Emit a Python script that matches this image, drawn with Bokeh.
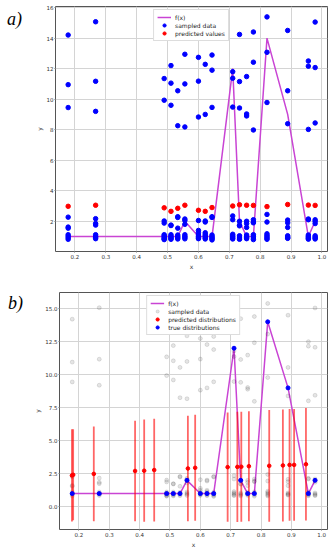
import math
from bokeh.plotting import figure
from bokeh.models import Range1d, Legend, LegendItem, FixedTicker, Div
from bokeh.layouts import column, row
from bokeh.embed import file_html
from bokeh.resources import INLINE

# ---------------- data ----------------
x_grid = [0.178, 0.267, 0.489, 0.511, 0.533, 0.556, 0.600, 0.622, 0.644,
          0.711, 0.733, 0.756, 0.778, 0.822, 0.889, 0.956, 0.978]
f_values = [1, 1, 1, 1, 1, 2, 1, 1, 1, 12, 2, 1, 1, 14, 9, 1, 2]

samples = [
    [14.2, 10.95, 9.45, 2.27, 1.62, 1.55, 1.12, 1.02, 0.92, 0.82],
    [15.07, 11.17, 9.2, 2.17, 1.85, 1.75, 1.12, 1.02, 0.95, 0.86],
    [11.35, 9.93, 2.02, 1.88, 1.12, 1.05, 0.97, 0.9, 0.84, 0.8],
    [12.2, 11.05, 9.6, 1.75, 1.72, 1.12, 1.03, 0.95, 0.88, 0.82],
    [14.08, 10.55, 8.26, 2.3, 2.25, 1.55, 1.1, 1.0, 0.92, 0.84],
    [12.94, 11.0, 8.18, 2.15, 2.05, 1.8, 1.12, 1.02, 0.94, 0.85],
    [12.74, 11.18, 8.83, 2.05, 1.4, 1.25, 1.1, 1.0, 0.92, 0.86],
    [12.28, 9.0, 2.02, 1.95, 1.25, 1.15, 1.05, 0.98, 0.9, 0.84],
    [12.89, 11.9, 9.46, 2.3, 2.25, 1.1, 1.0, 0.92, 0.85, 0.78],
    [11.8, 11.37, 9.48, 2.35, 2.1, 1.15, 1.05, 0.98, 0.9, 0.84],
    [14.24, 11.15, 9.42, 2.0, 1.75, 1.7, 1.05, 0.97, 0.9, 0.82],
    [11.48, 9.03, 8.9, 2.0, 1.85, 1.6, 1.1, 1.0, 0.93, 0.86],
    [14.4, 12.42, 7.98, 2.1, 1.95, 1.9, 1.12, 1.02, 0.9, 0.8],
    [15.39, 13.07, 9.78, 2.45, 1.95, 1.18, 1.08, 0.98, 0.9, 0.82],
    [14.5, 10.55, 8.39, 2.08, 1.9, 1.6, 1.05, 0.98, 0.92, 0.88],
    [12.5, 12.16, 8.02, 2.15, 2.1, 1.1, 1.02, 0.95, 0.88, 0.83],
    [15.05, 12.07, 8.44, 2.1, 2.0, 1.85, 1.05, 0.97, 0.9, 0.84],
]

predicted_values = [2.98, 3.05, 2.88, 2.65, 2.85, 3.05, 2.72, 2.65, 2.9,
                    3.0, 3.08, 3.05, 3.04, 2.96, 3.1, 3.06, 3.04]

pred_x = [0.177, 0.181, 0.249, 0.385, 0.415, 0.448, 0.559, 0.583, 0.690,
          0.722, 0.735, 0.760, 0.827, 0.872, 0.894, 0.909, 0.948]
pred_mean = [2.37, 2.42, 2.49, 2.71, 2.73, 2.78, 2.90, 2.95, 3.00,
             3.02, 3.03, 3.07, 3.10, 3.13, 3.17, 3.17, 3.22]
pred_std = [3.49, 3.44, 3.59, 3.81, 3.87, 3.89, 3.99, 4.01, 4.13,
            4.18, 4.17, 4.16, 4.23, 4.24, 4.23, 4.23, 4.26]

x_ticks = [0.2, 0.3, 0.4, 0.5, 0.6, 0.7, 0.8, 0.9, 1.0]
x_tick_labels = ["0.2", "0.3", "0.4", "0.5", "0.6", "0.7", "0.8", "0.9", "1.0"]
y_ticks_a = [2, 4, 6, 8, 10, 12, 14, 16]
y_tick_labels_a = ["2", "4", "6", "8", "10", "12", "14", "16"]
y_ticks_b = [0.0, 2.5, 5.0, 7.5, 10.0, 12.5, 15.0]
y_tick_labels_b = ["0.0", "2.5", "5.0", "7.5", "10.0", "12.5", "15.0"]

# ---------------- layout / style ----------------
LBL_W = 28
W = 334 - LBL_W
HA, HB = 272, 278
A_LEFT, A_RIGHT, A_TOP, A_BOTTOM = 27, 7, 6, 19
B_LEFT, B_RIGHT, B_TOP, B_BOTTOM = 31, 7, 20, 15
XA, YA = (0.137, 1.018), (0.02, 16.07)
XB, YB = (0.136, 1.019), (-1.72, 16.22)
MAG = "#c944d4"
FONT = "DejaVu Sans"

sx = [x for x, col in zip(x_grid, samples) for _ in col]
sy = [y for col in samples for y in col]


def make_fig(h, left, right, top, bottom, xr, yr, yt, ytl):
    p = figure(width=W, height=h, x_range=Range1d(*xr), y_range=Range1d(*yr),
               output_backend="svg", toolbar_location=None,
               min_border_left=left, min_border_right=right,
               min_border_top=top, min_border_bottom=bottom)
    p.outline_line_color = "#555555"
    p.outline_line_width = 1
    p.background_fill_color = "white"
    p.border_fill_color = "white"
    p.xaxis.ticker = FixedTicker(ticks=x_ticks)
    p.xaxis.major_label_overrides = dict(zip(x_ticks, x_tick_labels))
    p.yaxis.ticker = FixedTicker(ticks=yt)
    p.yaxis.major_label_overrides = dict(zip(yt, ytl))
    p.xaxis.axis_label = "x"
    p.yaxis.axis_label = "y"
    for ax in (p.xaxis[0], p.yaxis[0]):
        ax.axis_line_color = None
        ax.major_tick_line_color = "#777777"
        ax.major_tick_in = 0
        ax.major_tick_out = 1
        ax.minor_tick_line_color = None
        ax.major_label_text_font = FONT
        ax.major_label_text_font_size = "5.5px"
        ax.major_label_text_color = "#333333"
        ax.major_label_standoff = 1
        ax.axis_label_text_font = FONT
        ax.axis_label_text_font_size = "6px"
        ax.axis_label_text_font_style = "normal"
        ax.axis_label_text_color = "#333333"
        ax.axis_label_standoff = 1
    p.xgrid.ticker = FixedTicker(ticks=x_ticks)
    p.ygrid.ticker = FixedTicker(ticks=yt)
    for g in (p.xgrid[0], p.ygrid[0]):
        g.grid_line_color = "#d4d4d4"
        g.grid_line_width = 1
    return p


def legend_style(lg):
    lg.location = "top_center"
    lg.label_text_font = FONT
    lg.label_text_font_size = "6px"
    lg.label_text_color = "#222222"
    lg.glyph_height = 8
    lg.glyph_width = 14
    lg.label_height = 8
    lg.label_standoff = 4
    lg.spacing = 0
    lg.padding = 3
    lg.margin = 3
    lg.border_line_color = "#bbbbbb"
    lg.border_line_width = 1
    lg.background_fill_color = "white"
    lg.background_fill_alpha = 1.0


def side_label(text, h, pad_top, pad_left):
    html = ("<div style=\"padding:%dpx 0 0 %dpx; font-family:'Liberation Serif',serif; "
            "font-style:italic; font-size:18px; line-height:18px; color:#000;\">%s</div>"
            % (pad_top, pad_left, text))
    return Div(text=html, width=LBL_W, height=h, margin=0)


# ---------------- panel a ----------------
pa = make_fig(HA, A_LEFT, A_RIGHT, A_TOP, A_BOTTOM, XA, YA, y_ticks_a, y_tick_labels_a)
ra_line = pa.line(x_grid, f_values, line_color=MAG, line_width=1.5)
ra_samp = pa.scatter(sx, sy, size=4.5, color="blue")
ra_pred = pa.scatter(x_grid, predicted_values, size=4.5, color="red")
lga = Legend(items=[LegendItem(label="f(x)", renderers=[ra_line]),
                    LegendItem(label="sampled data", renderers=[ra_samp]),
                    LegendItem(label="predicted values", renderers=[ra_pred])])
legend_style(lga)
pa.add_layout(lga)

# ---------------- panel b ----------------
pb = make_fig(HB, B_LEFT, B_RIGHT, B_TOP, B_BOTTOM, XB, YB, y_ticks_b, y_tick_labels_b)
lo = [m - s for m, s in zip(pred_mean, pred_std)]
hi = [m + s for m, s in zip(pred_mean, pred_std)]
rb_line = pb.line(x_grid, f_values, line_color=MAG, line_width=1.5)
rb_samp = pb.scatter(sx, sy, size=4, color="black", alpha=0.1)
pb.segment(x0=pred_x, y0=lo, x1=pred_x, y1=hi, line_color="red",
           line_alpha=0.6, line_width=1.8)
rb_pred = pb.scatter(pred_x, pred_mean, size=3.6, color="red")
rb_true = pb.scatter(x_grid, f_values, size=4, color="blue")
# legend-only error-bar glyphs
rb_pred_bar = pb.scatter([], [], marker="dash", angle=math.pi / 2, size=8,
                         line_color="red", line_width=1.5)
rb_true_bar = pb.scatter([], [], marker="dash", angle=math.pi / 2, size=8,
                         line_color="blue", line_width=1.5)
lgb = Legend(items=[LegendItem(label="f(x)", renderers=[rb_line]),
                    LegendItem(label="sampled data", renderers=[rb_samp]),
                    LegendItem(label="predicted distributions", renderers=[rb_pred_bar, rb_pred]),
                    LegendItem(label="true distributions", renderers=[rb_true_bar, rb_true])])
legend_style(lgb)
pb.add_layout(lgb)

layout = column(row(side_label("a)", HA, 10, 7), pa),
                row(side_label("b)", HB, 22, 8), pb))
open("out.html", "w").write(file_html(layout, INLINE))
